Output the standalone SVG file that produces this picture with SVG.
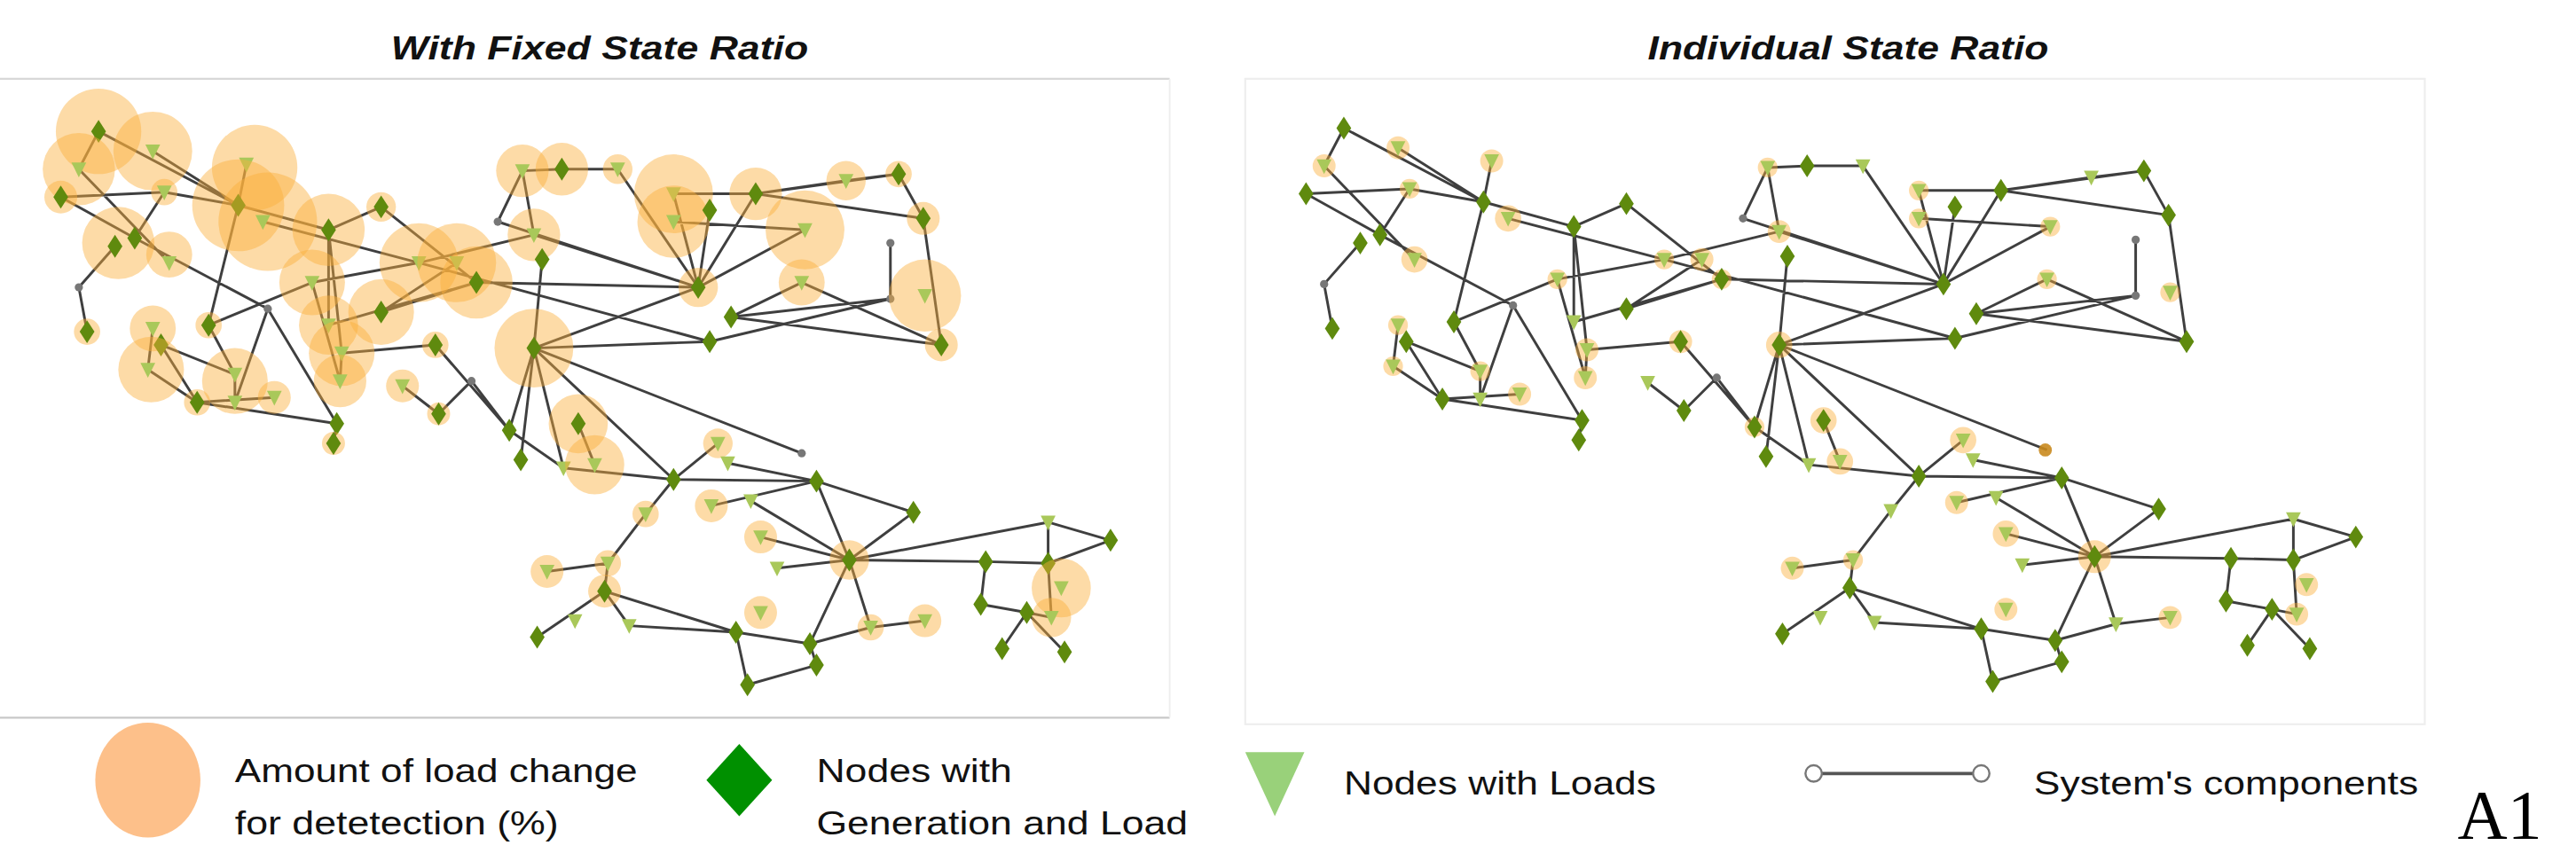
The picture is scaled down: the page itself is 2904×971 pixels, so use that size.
<svg xmlns="http://www.w3.org/2000/svg" xmlns:xlink="http://www.w3.org/1999/xlink" width="2904" height="971" viewBox="0 0 2904 971">
<style>
.e{stroke:#2a2a2a;stroke-width:1.6;fill:none;stroke-opacity:.9}
.c{fill:#fbb03b;fill-opacity:.45}
.t{font-family:"Liberation Sans",Arial,sans-serif;font-size:20px;fill:#111}
.h{font-family:"Liberation Sans",Arial,sans-serif;font-size:20px;font-weight:bold;font-style:italic;fill:#111}
</style>
<defs>
<polygon id="D" points="0,-7 4.5,0 0,7 -4.5,0" fill="#5f8a0e"/>
<polygon id="T" points="-4.5,-4 4.5,-4 0,5" fill="#a9c85a"/>
<circle id="G" r="2.5" fill="#777"/>
</defs>
<rect width="2904" height="971" fill="#fff"/>
<g transform="scale(1.852)">
<text class="h" x="238" y="36" textLength="254" lengthAdjust="spacingAndGlyphs">With Fixed State Ratio</text>
<text class="h" x="1003" y="36" textLength="244" lengthAdjust="spacingAndGlyphs">Individual State Ratio</text>
<line x1="0" y1="48" x2="712" y2="48" stroke="#d8d8d8" stroke-width="1.2"/>
<line x1="0" y1="437" x2="712" y2="437" stroke="#c8c8c8" stroke-width="1.2"/>
<line x1="712" y1="48" x2="712" y2="437" stroke="#eee"/>
<rect x="758" y="48" width="718" height="393" fill="none" stroke="#eee" stroke-width="1.2"/>
<g id="connectors-left" class="e">
<path id="edges" d="M60,80L48,103M60,80L145,125M93,92L145,125M48,103L103,160M37,120L100,117M100,117L145,125M37,120L82,145M100,117L82,145M150,100L145,125M145,125L200,140M160,135L255,160M200,140L232,126M200,140L200,198M145,125L127,198M232,126L290,172M70,150L48,175M48,175L53,202M82,145L163,188M163,188L205,258M163,188L143,245M127,198L190,172M190,172L255,160M255,160L325,143M200,198L290,172M98,210L143,228M93,200L90,225M98,210L120,245M90,225L120,245M120,245L167,242M120,245L205,258M143,228L143,245M143,228L127,198M205,258L203,270M208,215L207,232M208,215L265,210M207,232L190,172M232,190L278,160M245,235L267,252M287,232L267,252M287,232L310,262M265,210L310,262M310,262L325,212M325,212L330,158M325,212L410,292M325,212L317,280M325,212L343,285M325,212L425,175M325,212L488,276M325,212L432,208M310,262L343,285M343,285L410,292M352,258L362,283M410,292L497,293M410,292L437,270M410,292L393,313M393,313L370,343M370,343L333,348M497,293L443,282M497,293L433,308M497,293L556,312M497,293L517,341M517,341L457,305M517,341L463,327M517,341L638,318M517,341L600,342M517,341L473,346M517,341L493,392M517,341L530,382M517,341L556,312M600,342L638,343M638,343L676,329M638,318L676,329M638,318L638,343M600,342L597,368M597,368L625,373M625,373L610,395M625,373L648,397M638,343L640,376M640,376L625,373M368,360L448,385M368,360L327,388M370,343L368,360M368,360L383,381M383,381L448,385M448,385L493,392M448,385L455,417M455,417L497,405M493,392L530,382M530,382L563,378M493,392L497,405M303,135L318,104M303,135L425,175M318,104L342,103M342,103L376,103M376,103L425,175M318,104L325,143M410,118L460,118M460,118L515,110M515,110L547,106M460,118L547,106M410,118L425,175M410,135L490,140M432,128L425,175M460,118L425,175M490,140L425,175M547,106L562,133M562,133L573,210M542,148L542,182M542,182L445,193M445,193L488,172M445,193L573,210M488,172L573,210M542,182L432,208M425,175L325,143M425,175L290,172M255,160L432,208M290,172L232,190M200,140L208,215M562,133L547,106M460,118L562,133"/>
</g>
<g id="nodes-left">
<g id="n1"><circle class="c" cx="60" cy="80" r="26"/><use href="#D" x="60" y="80"/></g>
<g id="n2"><circle class="c" cx="93" cy="92" r="24"/><use href="#T" x="93" y="92"/></g>
<g id="n3"><circle class="c" cx="48" cy="103" r="22"/><use href="#T" x="48" y="103"/></g>
<g id="n4"><circle class="c" cx="37" cy="120" r="10"/><use href="#D" x="37" y="120"/></g>
<g id="n5"><circle class="c" cx="100" cy="117" r="8"/><use href="#T" x="100" y="117"/></g>
<g id="n6"><circle class="c" cx="155" cy="102" r="26"/><use href="#T" x="150" y="100"/></g>
<g id="n7"><circle class="c" cx="145" cy="125" r="28"/><use href="#D" x="145" y="125"/></g>
<g id="n8"><circle class="c" cx="163" cy="135" r="30"/><use href="#T" x="160" y="135"/></g>
<g id="n9"><circle class="c" cx="200" cy="140" r="22"/><use href="#D" x="200" y="140"/></g>
<g id="n10"><circle class="c" cx="232" cy="126" r="9"/><use href="#D" x="232" y="126"/></g>
<g id="n11"><circle class="c" cx="72" cy="148" r="22"/><use href="#D" x="70" y="150"/></g>
<g id="n12"><use href="#D" x="82" y="145"/></g>
<g id="n13"><circle class="c" cx="103" cy="155" r="14"/><use href="#T" x="103" y="160"/></g>
<g id="n14"><use href="#G" x="48" y="175"/></g>
<g id="n15"><circle class="c" cx="53" cy="202" r="8"/><use href="#D" x="53" y="202"/></g>
<g id="n16"><circle class="c" cx="93" cy="200" r="14"/><use href="#T" x="93" y="200"/></g>
<g id="n17"><use href="#D" x="98" y="210"/></g>
<g id="n18"><circle class="c" cx="127" cy="198" r="8"/><use href="#D" x="127" y="198"/></g>
<g id="n19"><circle class="c" cx="92" cy="225" r="20"/><use href="#T" x="90" y="225"/></g>
<g id="n20"><circle class="c" cx="120" cy="245" r="8"/><use href="#D" x="120" y="245"/></g>
<g id="n21"><circle class="c" cx="143" cy="232" r="20"/><use href="#T" x="143" y="228"/></g>
<g id="n22"><use href="#T" x="143" y="245"/></g>
<g id="n23"><circle class="c" cx="167" cy="242" r="10"/><use href="#T" x="167" y="242"/></g>
<g id="n24"><use href="#D" x="205" y="258"/></g>
<g id="n25"><circle class="c" cx="203" cy="270" r="7"/><use href="#D" x="203" y="270"/></g>
<g id="n26"><use href="#G" x="163" y="188"/></g>
<g id="n27"><circle class="c" cx="190" cy="172" r="20"/><use href="#T" x="190" y="172"/></g>
<g id="n28"><circle class="c" cx="200" cy="198" r="18"/><use href="#T" x="200" y="198"/></g>
<g id="n29"><circle class="c" cx="208" cy="215" r="20"/><use href="#T" x="208" y="215"/></g>
<g id="n30"><circle class="c" cx="207" cy="232" r="16"/><use href="#T" x="207" y="232"/></g>
<g id="n31"><circle class="c" cx="232" cy="190" r="20"/><use href="#D" x="232" y="190"/></g>
<g id="n32"><circle class="c" cx="245" cy="235" r="10"/><use href="#T" x="245" y="235"/></g>
<g id="n33"><circle class="c" cx="265" cy="210" r="8"/><use href="#D" x="265" y="210"/></g>
<g id="n34"><circle class="c" cx="267" cy="252" r="7"/><use href="#D" x="267" y="252"/></g>
<g id="n35"><use href="#G" x="287" y="232"/></g>
<g id="n36"><circle class="c" cx="255" cy="160" r="24"/><use href="#T" x="255" y="160"/></g>
<g id="n37"><circle class="c" cx="278" cy="160" r="24"/><use href="#T" x="278" y="160"/></g>
<g id="n38"><circle class="c" cx="290" cy="172" r="22"/><use href="#D" x="290" y="172"/></g>
<g id="n39"><use href="#G" x="303" y="135"/></g>
<g id="n40"><circle class="c" cx="325" cy="143" r="16"/><use href="#T" x="325" y="143"/></g>
<g id="n41"><use href="#D" x="330" y="158"/></g>
<g id="n42"><circle class="c" cx="318" cy="104" r="16"/><use href="#T" x="318" y="104"/></g>
<g id="n43"><circle class="c" cx="342" cy="103" r="16"/><use href="#D" x="342" y="103"/></g>
<g id="n44"><circle class="c" cx="376" cy="103" r="9"/><use href="#T" x="376" y="103"/></g>
<g id="n45"><circle class="c" cx="410" cy="118" r="24"/><use href="#T" x="410" y="118"/></g>
<g id="n46"><circle class="c" cx="410" cy="135" r="22"/><use href="#T" x="410" y="135"/></g>
<g id="n47"><use href="#D" x="432" y="128"/></g>
<g id="n48"><circle class="c" cx="460" cy="118" r="16"/><use href="#D" x="460" y="118"/></g>
<g id="n49"><circle class="c" cx="490" cy="140" r="24"/><use href="#T" x="490" y="140"/></g>
<g id="n50"><circle class="c" cx="488" cy="172" r="14"/><use href="#T" x="488" y="172"/></g>
<g id="n51"><circle class="c" cx="515" cy="110" r="12"/><use href="#T" x="515" y="110"/></g>
<g id="n52"><circle class="c" cx="547" cy="106" r="8"/><use href="#D" x="547" y="106"/></g>
<g id="n53"><circle class="c" cx="562" cy="133" r="10"/><use href="#D" x="562" y="133"/></g>
<g id="n54"><use href="#G" x="542" y="148"/><use href="#G" x="542" y="182"/></g>
<g id="n55"><circle class="c" cx="563" cy="180" r="22"/><use href="#T" x="563" y="180"/></g>
<g id="n56"><circle class="c" cx="573" cy="210" r="10"/><use href="#D" x="573" y="210"/></g>
<g id="n57"><circle class="c" cx="425" cy="175" r="12"/><use href="#D" x="425" y="175"/></g>
<g id="n58"><use href="#D" x="445" y="193"/></g>
<g id="n59"><use href="#D" x="432" y="208"/></g>
<g id="n60"><circle class="c" cx="325" cy="212" r="24"/><use href="#D" x="325" y="212"/></g>
<g id="n61"><use href="#D" x="310" y="262"/></g>
<g id="n62"><use href="#D" x="317" y="280"/></g>
<g id="n63"><use href="#T" x="343" y="285"/></g>
<g id="n64"><circle class="c" cx="352" cy="258" r="18"/><use href="#D" x="352" y="258"/></g>
<g id="n65"><circle class="c" cx="362" cy="283" r="18"/><use href="#T" x="362" y="283"/></g>
<g id="n66"><use href="#D" x="410" y="292"/></g>
<g id="n67"><use href="#G" x="488" y="276"/></g>
<g id="n68"><use href="#D" x="497" y="293"/></g>
<g id="n69"><circle class="c" cx="437" cy="270" r="9"/><use href="#T" x="437" y="270"/></g>
<g id="n70"><use href="#T" x="443" y="282"/></g>
<g id="n71"><circle class="c" cx="433" cy="308" r="10"/><use href="#T" x="433" y="308"/></g>
<g id="n72"><circle class="c" cx="393" cy="313" r="8"/><use href="#T" x="393" y="313"/></g>
<g id="n73"><use href="#T" x="457" y="305"/></g>
<g id="n74"><circle class="c" cx="463" cy="327" r="10"/><use href="#T" x="463" y="327"/></g>
<g id="n75"><circle class="c" cx="517" cy="341" r="12"/><use href="#D" x="517" y="341"/></g>
<g id="n76"><use href="#D" x="556" y="312"/></g>
<g id="n77"><use href="#T" x="473" y="346"/></g>
<g id="n78"><circle class="c" cx="333" cy="348" r="10"/><use href="#T" x="333" y="348"/></g>
<g id="n79"><circle class="c" cx="370" cy="343" r="8"/><use href="#T" x="370" y="343"/></g>
<g id="n80"><circle class="c" cx="368" cy="360" r="10"/><use href="#D" x="368" y="360"/></g>
<g id="n81"><use href="#T" x="350" y="378"/></g>
<g id="n82"><use href="#D" x="327" y="388"/></g>
<g id="n83"><use href="#T" x="383" y="381"/></g>
<g id="n84"><use href="#D" x="448" y="385"/></g>
<g id="n85"><circle class="c" cx="463" cy="373" r="10"/><use href="#T" x="463" y="373"/></g>
<g id="n86"><use href="#D" x="493" y="392"/></g>
<g id="n87"><use href="#D" x="497" y="405"/></g>
<g id="n88"><use href="#D" x="455" y="417"/></g>
<g id="n89"><circle class="c" cx="530" cy="382" r="8"/><use href="#T" x="530" y="382"/></g>
<g id="n90"><circle class="c" cx="563" cy="378" r="10"/><use href="#T" x="563" y="378"/></g>
<g id="n91"><use href="#D" x="600" y="342"/></g>
<g id="n92"><use href="#T" x="638" y="318"/></g>
<g id="n93"><use href="#D" x="676" y="329"/></g>
<g id="n94"><use href="#D" x="638" y="343"/></g>
<g id="n95"><circle class="c" cx="646" cy="358" r="18"/><use href="#T" x="646" y="358"/></g>
<g id="n96"><circle class="c" cx="640" cy="376" r="12"/><use href="#T" x="640" y="376"/></g>
<g id="n97"><use href="#D" x="625" y="373"/></g>
<g id="n98"><use href="#D" x="610" y="395"/></g>
<g id="n99"><use href="#D" x="648" y="397"/></g>
<g id="n100"><use href="#D" x="597" y="368"/></g>
</g>
<g id="right" transform="translate(758,-2)">
<g id="connectors-right" class="e"><use href="#edges"/></g>
<g id="nodes-right">
<g fill="#fbb03b" fill-opacity=".45">
<circle cx="93" cy="92" r="7"/><circle cx="48" cy="103" r="7"/><circle cx="100" cy="117" r="6"/><circle cx="150" cy="100" r="7"/><circle cx="160" cy="135" r="8"/><circle cx="103" cy="160" r="8"/><circle cx="93" cy="200" r="6"/><circle cx="90" cy="225" r="6"/><circle cx="143" cy="228" r="6"/><circle cx="167" cy="242" r="7"/><circle cx="190" cy="172" r="6"/><circle cx="208" cy="215" r="7"/><circle cx="207" cy="232" r="7"/><circle cx="255" cy="160" r="6"/><circle cx="278" cy="160" r="7"/><circle cx="290" cy="172" r="6"/><circle cx="325" cy="143" r="7"/><circle cx="318" cy="104" r="6"/><circle cx="410" cy="118" r="6"/><circle cx="410" cy="135" r="6"/><circle cx="490" cy="140" r="6"/><circle cx="488" cy="172" r="6"/><circle cx="563" cy="180" r="6"/><circle cx="325" cy="212" r="8"/><circle cx="352" cy="258" r="8"/><circle cx="362" cy="283" r="8"/><circle cx="437" cy="270" r="8"/><circle cx="433" cy="308" r="7"/><circle cx="463" cy="327" r="8"/><circle cx="517" cy="341" r="10"/><circle cx="333" cy="348" r="7"/><circle cx="370" cy="343" r="6"/><circle cx="463" cy="373" r="7"/><circle cx="563" cy="378" r="7"/><circle cx="646" cy="358" r="7"/><circle cx="640" cy="376" r="7"/><circle cx="265" cy="210" r="7"/><circle cx="310" cy="262" r="6"/><circle cx="487" cy="276" r="4" fill="#c98a1e" fill-opacity=".9"/>
</g>
<g id="r-diamonds"><use href="#D" x="60" y="80"/><use href="#D" x="37" y="120"/><use href="#D" x="145" y="125"/><use href="#D" x="200" y="140"/><use href="#D" x="232" y="126"/><use href="#D" x="70" y="150"/><use href="#D" x="82" y="145"/><use href="#D" x="53" y="202"/><use href="#D" x="98" y="210"/><use href="#D" x="127" y="198"/><use href="#D" x="120" y="245"/><use href="#D" x="205" y="258"/><use href="#D" x="203" y="270"/><use href="#D" x="232" y="190"/><use href="#D" x="265" y="210"/><use href="#D" x="267" y="252"/><use href="#D" x="290" y="172"/><use href="#D" x="330" y="158"/><use href="#D" x="342" y="103"/><use href="#D" x="432" y="128"/><use href="#D" x="460" y="118"/><use href="#D" x="547" y="106"/><use href="#D" x="562" y="133"/><use href="#D" x="573" y="210"/><use href="#D" x="425" y="175"/><use href="#D" x="445" y="193"/><use href="#D" x="432" y="208"/><use href="#D" x="325" y="212"/><use href="#D" x="310" y="262"/><use href="#D" x="317" y="280"/><use href="#D" x="352" y="258"/><use href="#D" x="410" y="292"/><use href="#D" x="497" y="293"/><use href="#D" x="517" y="341"/><use href="#D" x="556" y="312"/><use href="#D" x="368" y="360"/><use href="#D" x="327" y="388"/><use href="#D" x="448" y="385"/><use href="#D" x="493" y="392"/><use href="#D" x="497" y="405"/><use href="#D" x="455" y="417"/><use href="#D" x="600" y="342"/><use href="#D" x="676" y="329"/><use href="#D" x="638" y="343"/><use href="#D" x="625" y="373"/><use href="#D" x="610" y="395"/><use href="#D" x="648" y="397"/><use href="#D" x="597" y="368"/></g>
<g id="r-triangles"><use href="#T" x="93" y="92"/><use href="#T" x="48" y="103"/><use href="#T" x="100" y="117"/><use href="#T" x="150" y="100"/><use href="#T" x="160" y="135"/><use href="#T" x="103" y="160"/><use href="#T" x="93" y="200"/><use href="#T" x="90" y="225"/><use href="#T" x="143" y="228"/><use href="#T" x="143" y="245"/><use href="#T" x="167" y="242"/><use href="#T" x="190" y="172"/><use href="#T" x="200" y="198"/><use href="#T" x="208" y="215"/><use href="#T" x="207" y="232"/><use href="#T" x="245" y="235"/><use href="#T" x="255" y="160"/><use href="#T" x="278" y="160"/><use href="#T" x="325" y="143"/><use href="#T" x="318" y="104"/><use href="#T" x="376" y="103"/><use href="#T" x="410" y="118"/><use href="#T" x="410" y="135"/><use href="#T" x="490" y="140"/><use href="#T" x="488" y="172"/><use href="#T" x="515" y="110"/><use href="#T" x="563" y="180"/><use href="#T" x="343" y="285"/><use href="#T" x="362" y="283"/><use href="#T" x="437" y="270"/><use href="#T" x="443" y="282"/><use href="#T" x="433" y="308"/><use href="#T" x="393" y="313"/><use href="#T" x="457" y="305"/><use href="#T" x="463" y="327"/><use href="#T" x="473" y="346"/><use href="#T" x="333" y="348"/><use href="#T" x="370" y="343"/><use href="#T" x="350" y="378"/><use href="#T" x="383" y="381"/><use href="#T" x="463" y="373"/><use href="#T" x="530" y="382"/><use href="#T" x="563" y="378"/><use href="#T" x="638" y="318"/><use href="#T" x="646" y="358"/><use href="#T" x="640" y="376"/></g>
<g id="r-gray"><use href="#G" x="48" y="175"/><use href="#G" x="163" y="188"/><use href="#G" x="287" y="232"/><use href="#G" x="303" y="135"/><use href="#G" x="542" y="148"/><use href="#G" x="542" y="182"/></g>
</g>
</g>
<g id="legend">
<ellipse cx="90" cy="475" rx="32" ry="35" fill="#fdc08a"/>
<text class="t" x="143" y="476" textLength="245" lengthAdjust="spacingAndGlyphs">Amount of load change</text>
<text class="t" x="143" y="508" textLength="197" lengthAdjust="spacingAndGlyphs">for detetection (%)</text>
<polygon points="450,453 470,475 450,497 430,475" fill="#009000"/>
<text class="t" x="497" y="476" textLength="119" lengthAdjust="spacingAndGlyphs">Nodes with</text>
<text class="t" x="497" y="508" textLength="226" lengthAdjust="spacingAndGlyphs">Generation and Load</text>
<polygon points="758,458 794,458 776,497" fill="#99d17a"/>
<text class="t" x="818" y="484" textLength="190" lengthAdjust="spacingAndGlyphs">Nodes with Loads</text>
<line x1="1104" y1="471" x2="1206" y2="471" stroke="#555" stroke-width="2"/>
<circle cx="1104" cy="471" r="5" fill="#fff" stroke="#777" stroke-width="1.3"/>
<circle cx="1206" cy="471" r="5" fill="#fff" stroke="#777" stroke-width="1.3"/>
<text class="t" x="1238" y="484" textLength="234" lengthAdjust="spacingAndGlyphs">System's components</text>
<text x="1496" y="510" font-family="'Liberation Serif','Times New Roman',serif" font-size="42" fill="#000">A1</text>
</g>
</g>
</svg>
